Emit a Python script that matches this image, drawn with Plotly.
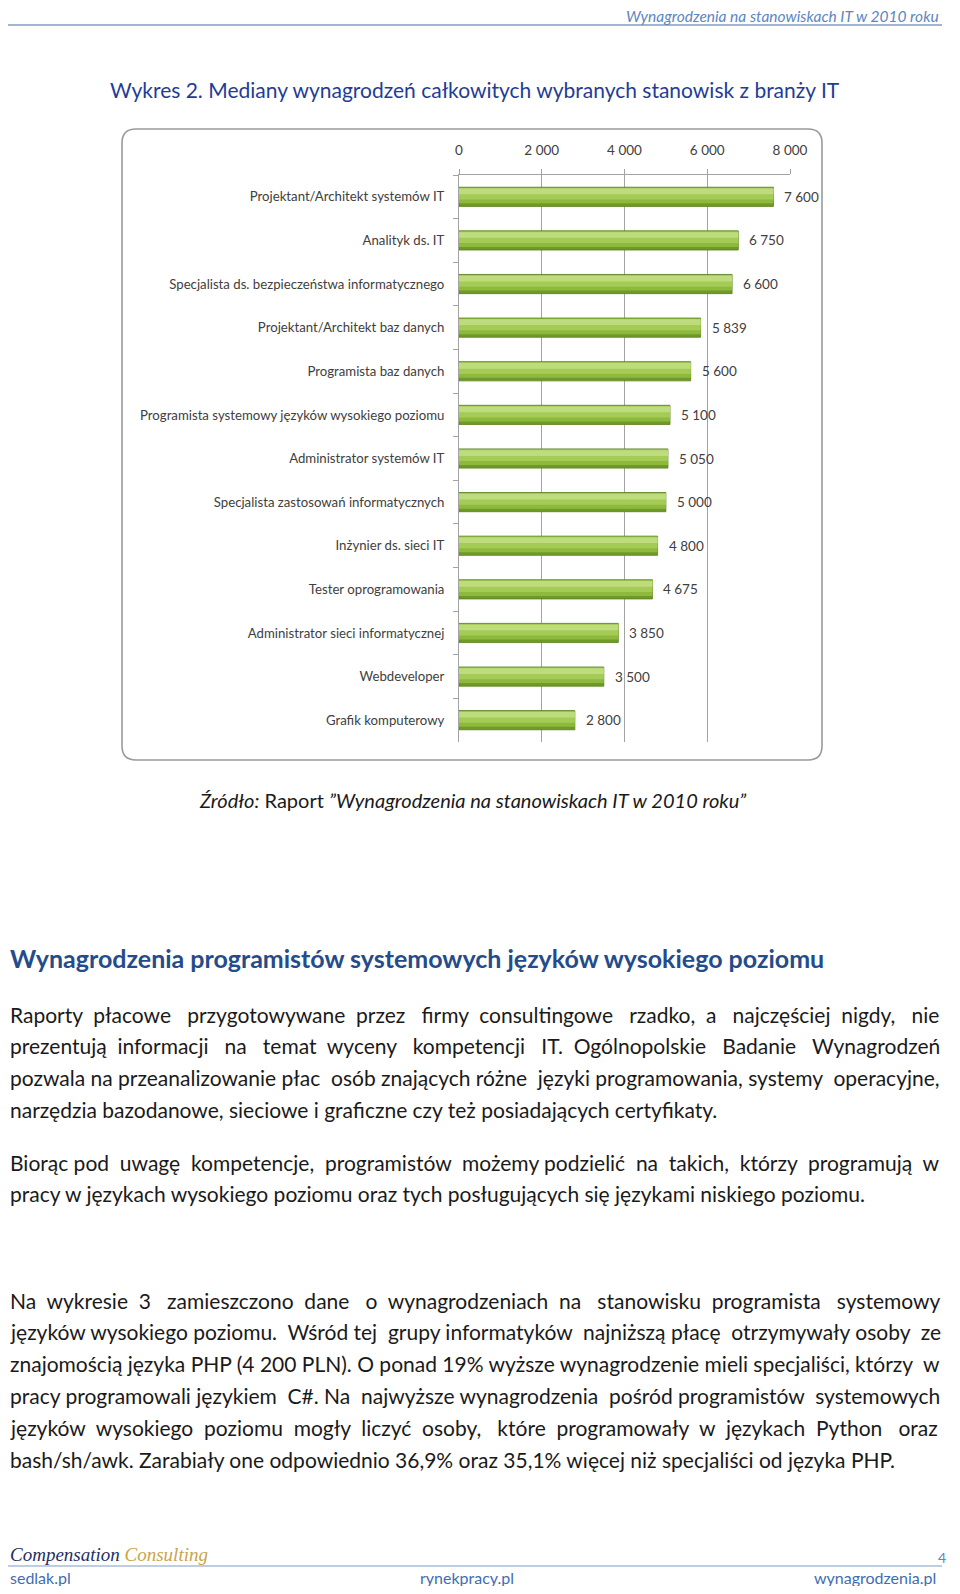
import plotly.graph_objects as go

# page is 960x1594 with an 8px body margin -> figure placed at (8, 8)
PAGE_OFF = 8
W, H = 944, 1578

categories = [
    "Projektant/Architekt systemów IT",
    "Analityk ds. IT",
    "Specjalista ds. bezpieczeństwa informatycznego",
    "Projektant/Architekt baz danych",
    "Programista baz danych",
    "Programista systemowy języków wysokiego poziomu",
    "Administrator systemów IT",
    "Specjalista zastosowań informatycznych",
    "Inżynier ds. sieci IT",
    "Tester oprogramowania",
    "Administrator sieci informatycznej",
    "Webdeveloper",
    "Grafik komputerowy",
]
values = [7600, 6750, 6600, 5839, 5600, 5100, 5050, 5000, 4800, 4675, 3850, 3500, 2800]
x_ticks = [0, 2000, 4000, 6000, 8000]

header_text = "Wynagrodzenia na stanowiskach IT w 2010 roku"
chart_title = "Wykres 2. Mediany wynagrodzeń całkowitych wybranych stanowisk z branży IT"
source_text = "<i>Źródło:</i> Raport <i>”Wynagrodzenia na stanowiskach IT w 2010 roku”</i>"
section_heading = "Wynagrodzenia programistów systemowych języków wysokiego poziomu"

paragraphs = [
    [
        "Raporty płacowe przygotowywane przez firmy consultingowe rzadko, a najczęściej nigdy, nie",
        "prezentują informacji na temat wyceny kompetencji IT. Ogólnopolskie Badanie Wynagrodzeń",
        "pozwala na przeanalizowanie płac osób znających różne języki programowania, systemy operacyjne,",
        "narzędzia bazodanowe, sieciowe i graficzne czy też posiadających certyfikaty.",
    ],
    [
        "Biorąc pod uwagę kompetencje, programistów możemy podzielić na takich, którzy programują w",
        "pracy w językach wysokiego poziomu oraz tych posługujących się językami niskiego poziomu.",
    ],
    [
        "Na wykresie 3 zamieszczono dane o wynagrodzeniach na stanowisku programista systemowy",
        "języków wysokiego poziomu. Wśród tej grupy informatyków najniższą płacę otrzymywały osoby ze",
        "znajomością języka PHP (4 200 PLN). O ponad 19% wyższe wynagrodzenie mieli specjaliści, którzy w",
        "pracy programowali językiem C#. Na najwyższe wynagrodzenia pośród programistów systemowych",
        "języków wysokiego poziomu mogły liczyć osoby, które programowały w językach Python oraz",
        "bash/sh/awk. Zarabiały one odpowiednio 36,9% oraz 35,1% więcej niż specjaliści od języka PHP.",
    ],
]
footer_links = ["sedlak.pl", "rynekpracy.pl", "wynagrodzenia.pl"]
page_number = "4"

# ---- styling / layout (not data) ----
FONT = "Lato"
paragraph_tops = [1014, 1162, 1300]
LINE = 31.8
# extra non-breaking spaces per line to emulate justified text (0 = last line, left aligned)
justify_pad = [
    [15, 15, 3, 0],
    [9, 0],
    [14, 5, 1, 4, 13, 0],
]


def px(x):
    return (x - PAGE_OFF) / W


def py(y):
    return 1 - (y - PAGE_OFF) / H


def justify(line, n_extra):
    words = line.split(" ")
    gaps = len(words) - 1
    if n_extra <= 0 or gaps <= 0:
        return line
    out = words[0]
    for i in range(gaps):
        k = (i + 1) * n_extra // gaps - i * n_extra // gaps
        out += " " + "\u00a0" * k + words[i + 1]
    return out


fig = go.Figure()

# bars: base + progressively lighter bands towards the top for a glossy look
bands = [
    (0.44, -0.22, "#6F9A28", dict(color="#5A7D1C", width=0.8)),
    (0.36, -0.21, "#8DBA3C", dict(width=0)),
    (0.26, -0.20, "#A4CB55", dict(width=0)),
    (0.13, -0.19, "#BEDC7E", dict(width=0)),
]
for width, offset, color, line in bands:
    fig.add_trace(go.Bar(x=values, y=categories, orientation="h", width=width, offset=offset,
                         marker=dict(color=color, line=line), hoverinfo="skip", showlegend=False))

ann = []
for c, v in zip(categories, values):
    ann.append(dict(x=v, y=c, xref="x", yref="y", text=f"{v:,}".replace(",", " "),
                    showarrow=False, xanchor="left", yanchor="middle", xshift=9,
                    font=dict(family=FONT, size=13.5, color="#404040")))


def text(x, y, s, size, color, anchor="left", bold=False, italic=False, family=FONT):
    if bold:
        s = f"<b>{s}</b>"
    if italic:
        s = f"<i>{s}</i>"
    ann.append(dict(x=px(x), y=py(y), xref="paper", yref="paper", text=s, showarrow=False,
                    xanchor=anchor, yanchor="middle", font=dict(family=family, size=size, color=color)))


text(941, 16, header_text, 15.5, "#5B86C2", anchor="right", italic=True)
text(108, 89, chart_title, 21, "#1F3C96")
text(472, 800, source_text, 20, "#1A1A1A", anchor="center")
text(PAGE_OFF, 958, section_heading, 25, "#244C8A", bold=True)

for top, lines, pads in zip(paragraph_tops, paragraphs, justify_pad):
    for i, (ln, pad) in enumerate(zip(lines, pads)):
        text(PAGE_OFF, top + i * LINE, justify(ln, pad), 21, "#1A1A1A")

# footer
ann.append(dict(x=px(PAGE_OFF), y=py(1554), xref="paper", yref="paper", showarrow=False, xanchor="left",
                yanchor="middle",
                text="<i><span style='color:#1F2F66'>Compensation</span> <span style='color:#C9A54A'>Consulting</span></i>",
                font=dict(family="Liberation Serif", size=19)))
text(948, 1557, page_number, 14, "#5B86C2", anchor="right")
text(PAGE_OFF, 1577, footer_links[0], 16, "#3F6DB3")
text(467, 1577, footer_links[1], 16, "#3F6DB3", anchor="center")
text(938, 1577, footer_links[2], 16, "#3F6DB3", anchor="right")

# shapes
shapes = [
    dict(type="line", xref="paper", yref="paper", x0=px(8), x1=px(942), y0=py(25), y1=py(25),
         line=dict(color="#7E9CC6", width=1.5)),
    dict(type="line", xref="paper", yref="paper", x0=px(8), x1=px(942), y0=py(1566), y1=py(1566),
         line=dict(color="#7E9CC6", width=1.2)),
]
# rounded chart frame
x0, x1, y0, y1, r = 122, 822, 129, 760, 14
path = (f"M {px(x0 + r)} {py(y0)} L {px(x1 - r)} {py(y0)} "
        f"Q {px(x1)} {py(y0)} {px(x1)} {py(y0 + r)} L {px(x1)} {py(y1 - r)} "
        f"Q {px(x1)} {py(y1)} {px(x1 - r)} {py(y1)} L {px(x0 + r)} {py(y1)} "
        f"Q {px(x0)} {py(y1)} {px(x0)} {py(y1 - r)} L {px(x0)} {py(y0 + r)} "
        f"Q {px(x0)} {py(y0)} {px(x0 + r)} {py(y0)} Z")
shapes.append(dict(type="path", xref="paper", yref="paper", path=path,
                   line=dict(color="#9A9A9A", width=1.6), layer="below"))

fig.update_layout(
    width=W, height=H, autosize=False,
    margin=dict(l=0, r=0, t=0, b=0, pad=0, autoexpand=False),
    paper_bgcolor="white", plot_bgcolor="rgba(0,0,0,0)",
    barmode="overlay", separators=", ", showlegend=False,
    annotations=ann, shapes=shapes,
    font=dict(family=FONT),
    xaxis=dict(domain=[px(459), px(790)], range=[0, 8000], side="top", tickvals=x_ticks,
               tickformat=",d", showgrid=True, gridcolor="#A3A3A3", gridwidth=1,
               showline=True, linecolor="#A3A3A3", linewidth=1, ticks="outside", ticklen=5,
               tickcolor="#A3A3A3", zeroline=False, ticklabelstandoff=9, automargin=False,
               tickfont=dict(family=FONT, size=13.5, color="#404040"), fixedrange=True),
    yaxis=dict(domain=[py(742), py(175)], type="category", categoryorder="array",
               categoryarray=categories, autorange="reversed", showline=True,
               linecolor="#A3A3A3", linewidth=1, ticks="outside", ticklen=5,
               tickcolor="#A3A3A3", tickson="boundaries", showgrid=False, ticklabelstandoff=11,
               automargin=False,
               tickfont=dict(family=FONT, size=13.2, color="#404040"), fixedrange=True),
)

fig.write_html("out.html")
